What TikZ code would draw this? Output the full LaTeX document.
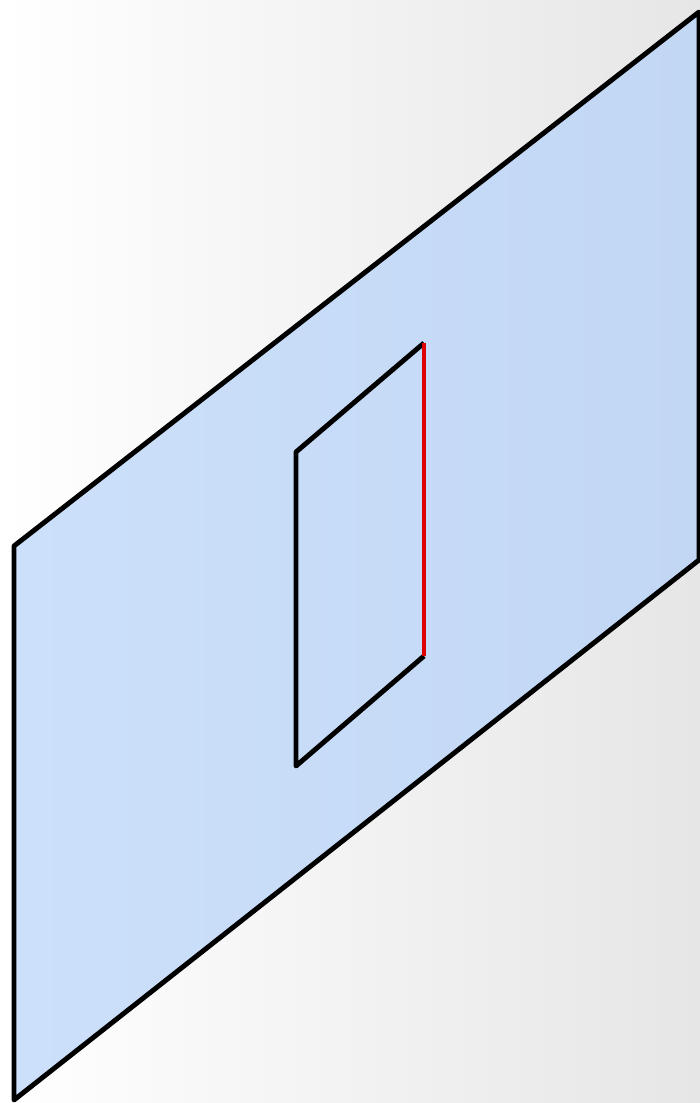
\documentclass[tikz,border=0pt]{standalone}
\usepackage{xcolor}
\usepackage{tikz}
\usetikzlibrary{backgrounds}
\definecolor{planefill}{HTML}{CCE0FB}
\definecolor{planefillr}{HTML}{C2D7F4}
\definecolor{edgered}{HTML}{DD0000}
\definecolor{bggray}{HTML}{E6E6E6}
\tikzset{
  planeface/.style={
    draw=black, line width=2.8pt, line join=round,
    left color=planefill, right color=planefillr
  },
  holeedge/.style={draw=black, line width=2.8pt, line join=round},
  rededge/.style={draw=edgered, line width=2.8pt},
}

\begin{document}
\begin{tikzpicture}[x=0.02cm, y=-0.02cm]
  \useasboundingbox (0,0) rectangle (700,1103);
  \shade[left color=white, right color=bggray] (0,0) rectangle (700,1103);
  % outer plane
  \coordinate (p1) at (14,546);
  \coordinate (p2) at (699,12);
  \coordinate (p3) at (699,560);
  \coordinate (p4) at (14,1100);
  \path[planeface] (p1) -- (p2) -- (p3) -- (p4) -- cycle;
  % inner window
  \coordinate (w1) at (296,452);
  \coordinate (w2) at (424,343);
  \coordinate (w3) at (424,656);
  \coordinate (w4) at (296,766);
  \draw[holeedge] (w2) -- (w1) -- (w4) -- (w3);
  \draw[rededge] (w2) -- (w3);
\end{tikzpicture}
\end{document}
